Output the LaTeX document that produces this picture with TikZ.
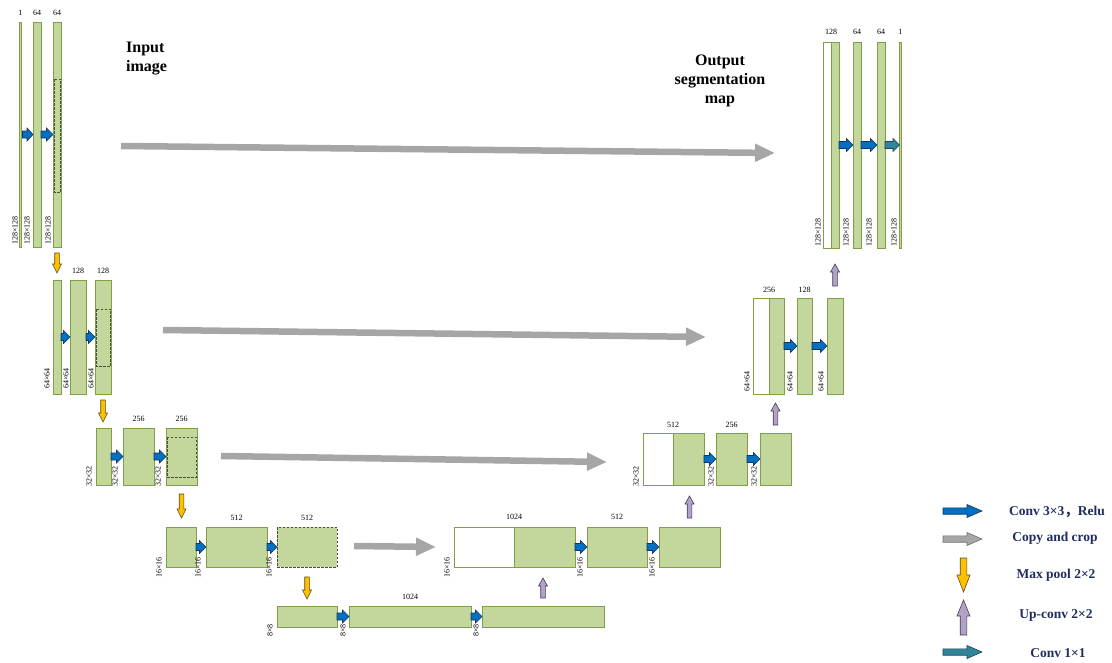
\documentclass[tikz,border=0pt]{standalone}
\usepackage{fontspec}
\setmainfont{Liberation Serif}
\newfontfamily\cjk{Noto Sans CJK SC}
\usetikzlibrary{calc,arrows.meta}
\definecolor{barfill}{RGB}{195,214,155}
\definecolor{barline}{RGB}{126,160,70}
\definecolor{dashcol}{RGB}{70,80,60}
\definecolor{bluefill}{RGB}{0,112,192}
\definecolor{blueline}{RGB}{25,50,95}
\definecolor{orfill}{RGB}{255,192,0}
\definecolor{orline}{RGB}{90,75,30}
\definecolor{pufill}{RGB}{179,162,199}
\definecolor{puline}{RGB}{70,60,85}
\definecolor{tefill}{RGB}{49,133,155}
\definecolor{teline}{RGB}{30,65,80}
\definecolor{grfill}{RGB}{166,166,166}
\definecolor{grline}{RGB}{110,110,110}
\definecolor{legtext}{RGB}{31,45,96}
% block bar: [opts]{name}{x}{y}{w}{h}
\newcommand\blk[6][]{\node[blk,minimum width=#5pt,minimum height=#6pt,#1] (#2) at (#3,#4) {};}
% right arrow: style, start, end, shaft half, head half, head length
\newcommand\rarr[6]{\path (#2) coordinate (hS) (#3) coordinate (hE);
 \draw[#1] ($(hS)+(0,-#4)$) -- ($(hE)+(-#6,-#4)$) -- ($(hE)+(-#6,-#5)$) -- (hE)
   -- ($(hE)+(-#6,#5)$) -- ($(hE)+(-#6,#4)$) -- ($(hS)+(0,#4)$) -- cycle;}
% down arrow
\newcommand\darr[6]{\path (#2) coordinate (hS) (#3) coordinate (hE);
 \draw[#1] ($(hS)+(-#4,0)$) -- ($(hE)+(-#4,-#6)$) -- ($(hE)+(-#5,-#6)$) -- (hE)
   -- ($(hE)+(#5,-#6)$) -- ($(hE)+(#4,-#6)$) -- ($(hS)+(#4,0)$) -- cycle;}
% up arrow
\newcommand\uarr[6]{\path (#2) coordinate (hS) (#3) coordinate (hE);
 \draw[#1] ($(hS)+(-#4,0)$) -- ($(hE)+(-#4,#6)$) -- ($(hE)+(-#5,#6)$) -- (hE)
   -- ($(hE)+(#5,#6)$) -- ($(hE)+(#4,#6)$) -- ($(hS)+(#4,0)$) -- cycle;}
\begin{document}
\begin{tikzpicture}[x=1pt,y=-1pt,
  blk/.style={draw=barline,fill=barfill,line width=0.8pt,inner sep=0pt,outer sep=0pt,anchor=north west},
  bluearr/.style={fill=bluefill,draw=blueline,line width=0.6pt,line join=miter},
  tealarr/.style={fill=tefill,draw=teline,line width=0.6pt,line join=miter},
  orarr/.style={fill=orfill,draw=orline,line width=0.6pt,line join=miter},
  puarr/.style={fill=pufill,draw=puline,line width=0.6pt,line join=miter},
  grarr/.style={fill=grfill,draw=grline,line width=0.6pt,line join=miter},
  copyarr/.style={draw=grfill,line width=6.5pt,-{Triangle[length=20pt,width=17pt]}},
  dashbox/.style={draw=dashcol,line width=0.6pt,dash pattern=on 2.5pt off 1.5pt},
  chl/.style={font=\fontsize{8}{9}\selectfont,inner sep=0pt},
  szl/.style={font=\fontsize{8}{9}\selectfont,rotate=90,anchor=west,inner sep=0pt},
  title/.style={font=\fontsize{16}{19}\selectfont\bfseries,inner sep=0pt},
  legtxt/.style={font=\fontsize{13.5}{16}\selectfont\bfseries,text=legtext,inner sep=0pt}]
\path[use as bounding box] (0,0) rectangle (1112,662);

% ---------------- contracting path ----------------
\blk{a1}{19.5}{22}{1.5}{225}
\blk{a2}{33}{22}{8}{225}
\blk{a3}{53}{22}{8}{225}
\blk{b1}{53}{280}{8}{114}
\blk{b2}{70}{280}{16}{114}
\blk{b3}{95}{280}{16}{114}
\blk{c1}{96}{428}{15}{57}
\blk{c2}{123}{428}{31}{57}
\blk{c3}{166}{428}{31}{57}
\blk{d1}{166}{527}{30}{40}
\blk{d2}{206}{527}{61}{40}
\blk[draw=dashcol,dash pattern=on 2.5pt off 1.5pt]{d3}{277}{527}{60}{40}
\blk{e1}{277}{606}{60}{21}
\blk{e2}{349}{606}{122}{21}
\blk{e3}{482}{606}{122}{21}
% ---------------- expanding path ----------------
\blk[fill=white]{f0}{454}{527}{60}{40}
\blk{f1}{514}{527}{61}{40}
\blk{f2}{587}{527}{60}{40}
\blk{f3}{659}{527}{61}{40}
\blk[fill=white]{g0}{643}{433}{30}{52}
\blk{g1}{673}{433}{31}{52}
\blk{g2}{716}{433}{31}{52}
\blk{g3}{760}{433}{31}{52}
\blk[fill=white]{h0}{753}{298}{16}{96}
\blk{h1}{769}{298}{15}{96}
\blk{h2}{797}{298}{15}{96}
\blk{h3}{827}{298}{16}{96}
\blk[fill=white]{i0}{823}{42}{8}{206}
\blk{i1}{831}{42}{8}{206}
\blk{i2}{853}{42}{8}{206}
\blk{i3}{877}{42}{8}{206}
\blk{i4}{899.5}{42}{1.5}{206}

% dashed crop regions
\draw[dashbox] (54,79) rectangle (60.5,192);
\draw[dashbox] (96,309) rectangle (110.5,366);
\draw[dashbox] (167,437) rectangle (196,477);

% ---------------- channel labels ----------------
\node[chl] (la1) at ($(a1.north)+(0,-9.5)$) {1};
\node[chl] (la2) at ($(a2.north)+(0,-9.5)$) {64};
\node[chl] (la3) at ($(a3.north)+(0,-9.5)$) {64};
\node[chl] (lb2) at ($(b2.north)+(0,-9.5)$) {128};
\node[chl] (lb3) at ($(b3.north)+(0,-9.5)$) {128};
\node[chl] (lc2) at ($(c2.north)+(0,-9.5)$) {256};
\node[chl] (lc3) at ($(c3.north)+(0,-9.5)$) {256};
\node[chl] (ld2) at ($(d2.north)+(0,-9.5)$) {512};
\node[chl] (ld3) at ($(d3.north)+(0,-9.5)$) {512};
\node[chl] (le2) at ($(e2.north)+(0,-9.5)$) {1024};
\node[chl] (lf1) at ($(f1.north west)+(0,-10)$) {1024};
\node[chl] (lf2) at ($(f2.north)+(0,-10)$) {512};
\node[chl] (lg1) at ($(g1.north west)+(0,-8.5)$) {512};
\node[chl] (lg2) at ($(g2.north)+(0,-8.5)$) {256};
\node[chl] (lh1) at ($(h1.north west)+(0,-8.5)$) {256};
\node[chl] (lh2) at ($(h2.north)+(0,-8.5)$) {128};
\node[chl] (li1) at ($(i1.north west)+(0,-10)$) {128};
\node[chl] (li2) at ($(i2.north)+(0,-10)$) {64};
\node[chl] (li3) at ($(i3.north)+(0,-10)$) {64};
\node[chl] (li4) at ($(i4.north)+(0,-10)$) {1};

% ---------------- size labels ----------------
\node[szl] (sa1) at (15,245) {128×128};
\node[szl] (sa2) at (27,245) {128×128};
\node[szl] (sa3) at (48,245) {128×128};
\node[szl] (sb1) at (47,389) {64×64};
\node[szl] (sb2) at (66,389) {64×64};
\node[szl] (sb3) at (91,389) {64×64};
\node[szl] (sc1) at (89,487) {32×32};
\node[szl] (sc2) at (115,487) {32×32};
\node[szl] (sc3) at (158,487) {32×32};
\node[szl] (sd1) at (159,578) {16×16};
\node[szl] (sd2) at (198,578) {16×16};
\node[szl] (sd3) at (269,578) {16×16};
\node[szl] (se1) at (270,637) {8×8};
\node[szl] (se2) at (343,637) {8×8};
\node[szl] (se3) at (476,637) {8×8};
\node[szl] (sf0) at (447,578) {16×16};
\node[szl] (sf2) at (580,578) {16×16};
\node[szl] (sf3) at (652,578) {16×16};
\node[szl] (sg0) at (636,487) {32×32};
\node[szl] (sg2) at (711,487) {32×32};
\node[szl] (sg3) at (754,487) {32×32};
\node[szl] (sh0) at (747,392) {64×64};
\node[szl] (sh2) at (790,392) {64×64};
\node[szl] (sh3) at (821,392) {64×64};
\node[szl] (si0) at (818,247) {128×128};
\node[szl] (si2) at (846,247) {128×128};
\node[szl] (si3) at (869,247) {128×128};
\node[szl] (si4) at (894,247) {128×128};

% ---------------- conv arrows ----------------
\rarr{bluearr}{$(a1.east)+(1.5,0)$}{a2.west}{3.5}{6.5}{6}
\rarr{bluearr}{a2.east}{a3.west}{3.5}{6.5}{6.5}
\rarr{bluearr}{b1.east}{b2.west}{3.5}{6.5}{6.5}
\rarr{bluearr}{b2.east}{b3.west}{3.5}{6.5}{6.5}
\rarr{bluearr}{c1.east}{c2.west}{3.5}{6.5}{6.5}
\rarr{bluearr}{c2.east}{c3.west}{3.5}{6.5}{6.5}
\rarr{bluearr}{d1.east}{d2.west}{3.5}{6.5}{6.5}
\rarr{bluearr}{d2.east}{d3.west}{3.5}{6.5}{6.5}
\rarr{bluearr}{e1.east}{e2.west}{3.5}{6.5}{6.5}
\rarr{bluearr}{e2.east}{e3.west}{3.5}{6.5}{6.5}
\rarr{bluearr}{f1.east}{f2.west}{3.5}{6.5}{6.5}
\rarr{bluearr}{f2.east}{f3.west}{3.5}{6.5}{6.5}
\rarr{bluearr}{g1.east}{g2.west}{3.5}{6.5}{6.5}
\rarr{bluearr}{g2.east}{g3.west}{3.5}{6.5}{6.5}
\rarr{bluearr}{h1.east}{h2.west}{3.5}{6.5}{6.5}
\rarr{bluearr}{h2.east}{h3.west}{3.5}{6.5}{6.5}
\rarr{bluearr}{i1.east}{i2.west}{3.5}{6.5}{6.5}
\rarr{bluearr}{i2.east}{i3.west}{3.5}{6.5}{6.5}
\rarr{tealarr}{i3.east}{i4.west}{3.5}{6.5}{6.5}

% ---------------- max pool arrows ----------------
\darr{orarr}{$(a3.south)+(0,6)$}{$(a3.south |- b1.north)+(0,-7)$}{2.3}{4.5}{9}
\darr{orarr}{$(b3.south)+(0,6)$}{$(b3.south |- c1.north)+(0,-6)$}{2.3}{4.5}{9}
\darr{orarr}{$(c3.south)+(0,9)$}{$(c3.south |- d1.north)+(0,-9)$}{2.3}{4.5}{9}
\darr{orarr}{$(d3.south)+(0,10)$}{$(d3.south |- e1.north)+(0,-7)$}{2.3}{4.5}{9}

% ---------------- up-conv arrows ----------------
\uarr{puarr}{$(e3.north)+(0,-8)$}{$(e3.north |- f1.south)+(0,11)$}{2.3}{4.5}{8}
\uarr{puarr}{$(f3.north)+(0,-9)$}{$(f3.north |- g1.south)+(0,11)$}{2.3}{4.5}{8}
\uarr{puarr}{$(g3.north)+(0,-8)$}{$(g3.north |- h1.south)+(0,9)$}{2.3}{4.5}{8}
\uarr{puarr}{$(h3.north)+(0,-12)$}{$(h3.north |- i1.south)+(0,16)$}{2.3}{4.5}{8}

% ---------------- copy and crop ----------------
\coordinate (k1s) at (121,146); \coordinate (k1e) at (775,153);
\coordinate (k2s) at (163,330); \coordinate (k2e) at (706,337);
\coordinate (k3s) at (221,456); \coordinate (k3e) at (607,462);
\coordinate (k4s) at (354,546); \coordinate (k4e) at (436,547);
\draw[copyarr] (k1s) -- (k1e);
\draw[copyarr] (k2s) -- (k2e);
\draw[copyarr] (k3s) -- (k3e);
\draw[copyarr] (k4s) -- (k4e);

% ---------------- titles ----------------
\node[title,anchor=west,align=left] (tin) at (126,59) {Input\\image};
\node[title,align=center] (tout) at (720,81) {Output\\segmentation\\map};

% ---------------- legend ----------------
\coordinate (L1s) at (943,511); \coordinate (L1e) at (982,511);
\coordinate (L2s) at (943,539); \coordinate (L2e) at (982,539);
\coordinate (L3s) at (963.5,558); \coordinate (L3e) at (963.5,592);
\coordinate (L4s) at (963.5,635); \coordinate (L4e) at (963.5,600);
\coordinate (L5s) at (943,652); \coordinate (L5e) at (982,652);
\rarr{bluearr}{L1s}{L1e}{3.2}{6.5}{15}
\rarr{grarr}{L2s}{L2e}{3.2}{6.5}{15}
\darr{orarr}{L3s}{L3e}{3.3}{6.5}{17}
\uarr{puarr}{L4s}{L4e}{3.3}{6.5}{16}
\rarr{tealarr}{L5s}{L5e}{3.2}{6.5}{15}
\node[legtxt] (t1) at (1057,512) {Conv 3×3{\cjk ，}Relu};
\node[legtxt] (t2) at (1055,538) {Copy and crop};
\node[legtxt] (t3) at (1056,575) {Max pool 2×2};
\node[legtxt] (t4) at (1056,615) {Up-conv 2×2};
\node[legtxt] (t5) at (1058,653) {Conv 1×1};
\end{tikzpicture}
\end{document}
